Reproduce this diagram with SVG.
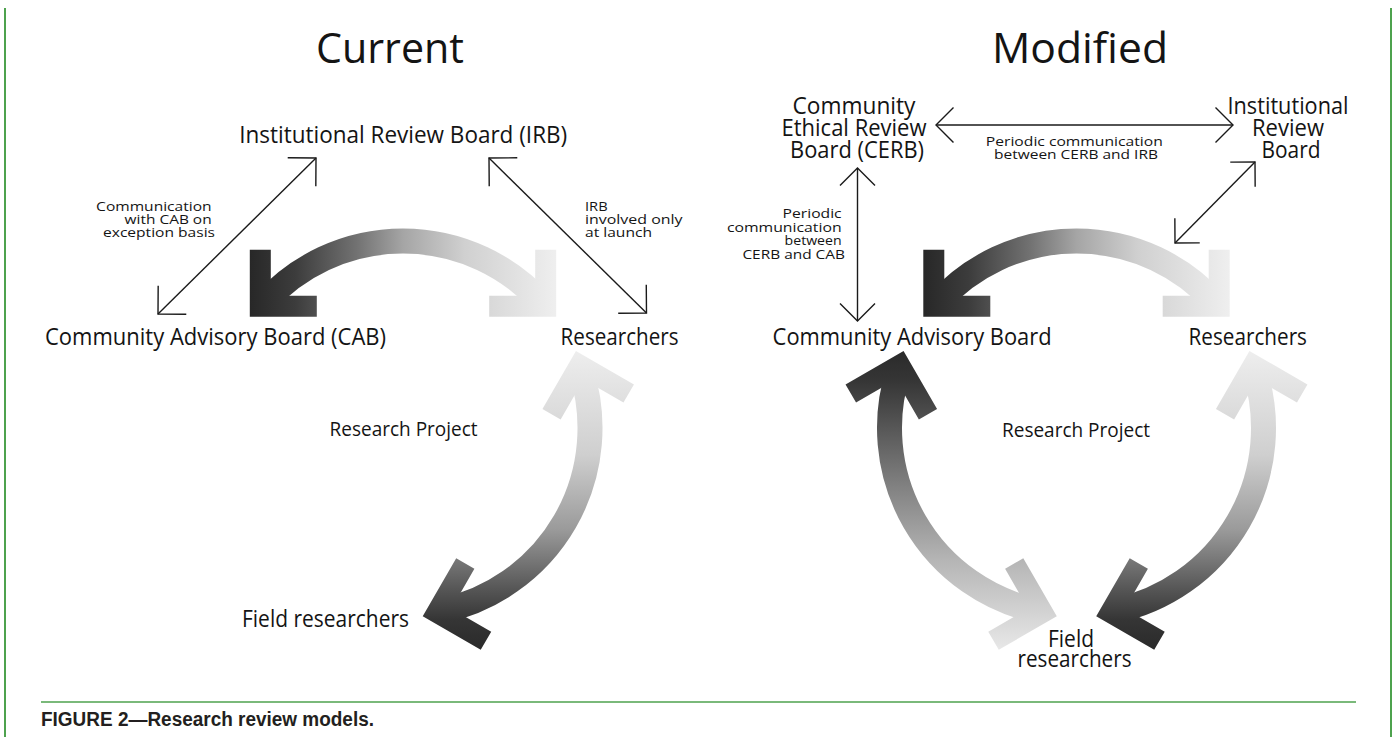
<svg xmlns="http://www.w3.org/2000/svg" width="1396" height="737" viewBox="0 0 1396 737">
  <style>
    text { font-family: "Open Sans", "Liberation Sans", sans-serif; fill: #141414; }
    .ttl { font-size: 42px; }
    .lbl { font-size: 23px; }
    .big { font-size: 24px; }
    .proj { font-size: 20px; }
    .note { font-size: 13px; }
    .cap { font-family: "Liberation Sans", Arial, sans-serif; font-weight: bold; font-size: 20px; fill: #231f20; }
    .frame { stroke: #4ea24e; fill: none; }
    .thinL { stroke: #1a1a1a; stroke-width: 1.4; fill: none; marker-start: url(#chevL); marker-end: url(#chevL); }
    .thinS { stroke: #1a1a1a; stroke-width: 1.4; fill: none; marker-start: url(#chevS); marker-end: url(#chevS); }
    .shaft { fill: none; stroke-width: 25; stroke-linecap: butt; }
  </style>
  <defs>
    <marker id="chevL" markerUnits="userSpaceOnUse" orient="auto-start-reverse" viewBox="-22 -22 24 44" markerWidth="24" markerHeight="44" refX="0" refY="0" overflow="visible">
      <path d="M-20,-20 L0,0 L-20,20" fill="none" stroke="#1a1a1a" stroke-width="1.4"/>
    </marker>
    <marker id="chevS" markerUnits="userSpaceOnUse" orient="auto-start-reverse" viewBox="-22 -22 24 44" markerWidth="24" markerHeight="44" refX="0" refY="0" overflow="visible">
      <path d="M-17.5,-17.5 L0,0 L-17.5,17.5" fill="none" stroke="#1a1a1a" stroke-width="1.4"/>
    </marker>
    <!-- horizontal dark-to-light ramps for the upper arcs -->
    <linearGradient id="gTopL" gradientUnits="userSpaceOnUse" x1="249" y1="0" x2="557" y2="0">
      <stop offset="0" stop-color="#272727"/>
      <stop offset="0.15" stop-color="#3c3c3c"/>
      <stop offset="0.35" stop-color="#727272"/>
      <stop offset="0.5" stop-color="#a5a5a5"/>
      <stop offset="0.7" stop-color="#d0d0d0"/>
      <stop offset="1" stop-color="#efefef"/>
    </linearGradient>
    <linearGradient id="gTopR" href="#gTopL" x1="922.5" x2="1230.5"/>
    <!-- vertical ramps: light at top, dark at bottom and the reverse -->
    <linearGradient id="gDown" gradientUnits="userSpaceOnUse" x1="0" y1="350" x2="0" y2="650">
      <stop offset="0" stop-color="#eeeeee"/>
      <stop offset="0.35" stop-color="#cfcfcf"/>
      <stop offset="0.6" stop-color="#9a9a9a"/>
      <stop offset="0.8" stop-color="#555555"/>
      <stop offset="0.9" stop-color="#353535"/>
      <stop offset="1" stop-color="#2a2a2a"/>
    </linearGradient>
    <linearGradient id="gUp" gradientUnits="userSpaceOnUse" x1="0" y1="350" x2="0" y2="650">
      <stop offset="0" stop-color="#2a2a2a"/>
      <stop offset="0.1" stop-color="#353535"/>
      <stop offset="0.2" stop-color="#4a4a4a"/>
      <stop offset="0.45" stop-color="#808080"/>
      <stop offset="0.7" stop-color="#b5b5b5"/>
      <stop offset="1" stop-color="#e8e8e8"/>
    </linearGradient>
  </defs>

  <!-- page frame -->
  <g id="frame">
    <line class="frame" x1="5" y1="8" x2="5" y2="737" stroke-width="2"/>
    <line class="frame" x1="1391" y1="8" x2="1391" y2="737" stroke-width="2"/>
    <line class="frame" x1="41" y1="702" x2="1356" y2="702" stroke-width="1.5"/>
  </g>

  <g id="connectors">
    <!-- Current: upper arc CAB <-> Researchers -->
    <g id="arc-top-current">
      <path class="shaft" stroke="url(#gTopL)" d="M264.04,302.87 A187,187 0 0 1 541.96,302.87"/>
      <polygon fill="url(#gTopL)" points="249.8,316.8 249.8,249.8 270.8,249.8 270.8,295.8 316.8,295.8 316.8,316.8"/>
      <polygon fill="url(#gTopL)" points="556.2,316.8 556.2,249.8 535.2,249.8 535.2,295.8 489.2,295.8 489.2,316.8"/>
    </g>
    <!-- Current: Researchers <-> Field researchers -->
    <g id="arc-right-current">
      <path class="shaft" stroke="url(#gDown)" d="M580.85,370.21 A187,187 0 0 1 441.88,610.91"/>
      <polygon fill="url(#gDown)" points="575.94,350.91 633.96,384.41 623.46,402.60 583.63,379.60 560.63,419.43 542.44,408.93"/>
      <polygon fill="url(#gDown)" points="422.71,616.32 456.21,558.30 474.40,568.80 451.40,608.63 491.23,631.63 480.73,649.82"/>
    </g>
    <!-- Current: thin links to the IRB -->
    <line class="thinL" x1="158" y1="314" x2="316" y2="158"/>
    <line class="thinL" x1="489" y1="158" x2="646.5" y2="313"/>

    <!-- Modified: upper arc CAB <-> Researchers -->
    <g id="arc-top-modified">
      <path class="shaft" stroke="url(#gTopR)" d="M937.54,302.87 A187,187 0 0 1 1215.46,302.87"/>
      <polygon fill="url(#gTopR)" points="923.3,316.8 923.3,249.8 944.3,249.8 944.3,295.8 990.3,295.8 990.3,316.8"/>
      <polygon fill="url(#gTopR)" points="1229.7,316.8 1229.7,249.8 1208.7,249.8 1208.7,295.8 1162.7,295.8 1162.7,316.8"/>
    </g>
    <!-- Modified: Researchers <-> Field researchers -->
    <g id="arc-right-modified">
      <path class="shaft" stroke="url(#gDown)" d="M1254.35,370.21 A187,187 0 0 1 1115.38,610.91"/>
      <polygon fill="url(#gDown)" points="1249.44,350.91 1307.46,384.41 1296.96,402.60 1257.13,379.60 1234.13,419.43 1215.94,408.93"/>
      <polygon fill="url(#gDown)" points="1096.21,616.32 1129.71,558.30 1147.90,568.80 1124.90,608.63 1164.73,631.63 1154.23,649.82"/>
    </g>
    <!-- Modified: CAB <-> Field researchers -->
    <g id="arc-left-modified">
      <path class="shaft" stroke="url(#gUp)" d="M898.65,370.21 A187,187 0 0 0 1037.62,610.91"/>
      <polygon fill="url(#gUp)" points="903.56,350.91 845.54,384.41 856.04,402.60 895.87,379.60 918.87,419.43 937.06,408.93"/>
      <polygon fill="url(#gUp)" points="1056.79,616.32 1023.29,558.30 1005.10,568.80 1028.10,608.63 988.27,631.63 998.77,649.82"/>
    </g>
    <!-- Modified: thin links -->
    <line class="thinS" x1="936" y1="125" x2="1233" y2="125"/>
    <line class="thinS" x1="857.5" y1="168" x2="857.5" y2="321"/>
    <line class="thinS" x1="1255" y1="162" x2="1175" y2="243"/>
  </g>

  <!-- Current model -->
  <g id="title-current">
    <text class="ttl" x="390" y="63" text-anchor="middle" textLength="148" lengthAdjust="spacingAndGlyphs">Current</text>
  </g>
  <g id="node-irb-current">
    <text class="big" x="403.2" y="143" text-anchor="middle" textLength="328" lengthAdjust="spacingAndGlyphs">Institutional Review Board (IRB)</text>
  </g>
  <g id="node-cab-current">
    <text class="big" x="45" y="345" textLength="341" lengthAdjust="spacingAndGlyphs">Community Advisory Board (CAB)</text>
  </g>
  <g id="node-researchers-current">
    <text class="big" x="560.6" y="345" textLength="118" lengthAdjust="spacingAndGlyphs">Researchers</text>
  </g>
  <g id="node-field-current">
    <text class="big" x="242" y="627" textLength="167" lengthAdjust="spacingAndGlyphs">Field researchers</text>
  </g>
  <g id="label-project-current">
    <text class="proj" x="329.6" y="436" textLength="148" lengthAdjust="spacingAndGlyphs">Research Project</text>
  </g>
  <g id="note-cab-irb">
    <text class="note" text-anchor="end">
      <tspan x="215" y="211" textLength="115.5" lengthAdjust="spacingAndGlyphs">Communication</tspan>
      <tspan x="215" y="224" textLength="87" lengthAdjust="spacingAndGlyphs">with CAB on</tspan>
      <tspan x="215" y="237" textLength="112" lengthAdjust="spacingAndGlyphs">exception basis</tspan>
    </text>
  </g>
  <g id="note-irb-researchers">
    <text class="note">
      <tspan x="585" y="211" textLength="22.6" lengthAdjust="spacingAndGlyphs">IRB</tspan>
      <tspan x="585" y="224" textLength="97.5" lengthAdjust="spacingAndGlyphs">involved only</tspan>
      <tspan x="585" y="237" textLength="67" lengthAdjust="spacingAndGlyphs">at launch</tspan>
    </text>
  </g>

  <!-- Modified model -->
  <g id="title-modified">
    <text class="ttl" x="1080" y="63" text-anchor="middle" textLength="176" lengthAdjust="spacingAndGlyphs">Modified</text>
  </g>
  <g id="node-cerb">
    <text class="lbl" text-anchor="middle">
      <tspan x="857" y="114" textLength="123" lengthAdjust="spacingAndGlyphs">Community</tspan>
      <tspan x="857" y="136" textLength="145" lengthAdjust="spacingAndGlyphs">Ethical Review</tspan>
      <tspan x="857" y="158" textLength="134" lengthAdjust="spacingAndGlyphs">Board (CERB)</tspan>
    </text>
  </g>
  <g id="node-irb-modified">
    <text class="lbl" text-anchor="middle">
      <tspan x="1291" y="114" textLength="121" lengthAdjust="spacingAndGlyphs">Institutional</tspan>
      <tspan x="1291" y="136" textLength="72" lengthAdjust="spacingAndGlyphs">Review</tspan>
      <tspan x="1291" y="158" textLength="59" lengthAdjust="spacingAndGlyphs">Board</tspan>
    </text>
  </g>
  <g id="node-cab-modified">
    <text class="big" x="772.6" y="345" textLength="279" lengthAdjust="spacingAndGlyphs">Community Advisory Board</text>
  </g>
  <g id="node-researchers-modified">
    <text class="big" x="1188.6" y="345" textLength="118.4" lengthAdjust="spacingAndGlyphs">Researchers</text>
  </g>
  <g id="node-field-modified">
    <text class="lbl" text-anchor="middle">
      <tspan x="1074" y="647" textLength="46" lengthAdjust="spacingAndGlyphs">Field</tspan>
      <tspan x="1074.5" y="667" textLength="114" lengthAdjust="spacingAndGlyphs">researchers</tspan>
    </text>
  </g>
  <g id="label-project-modified">
    <text class="proj" x="1002" y="436.5" textLength="148" lengthAdjust="spacingAndGlyphs">Research Project</text>
  </g>
  <g id="note-cerb-cab">
    <text class="note" text-anchor="end">
      <tspan x="845" y="217.5" textLength="59" lengthAdjust="spacingAndGlyphs">Periodic</tspan>
      <tspan x="845" y="231.5" textLength="114.7" lengthAdjust="spacingAndGlyphs">communication</tspan>
      <tspan x="845" y="245" textLength="57" lengthAdjust="spacingAndGlyphs">between</tspan>
      <tspan x="845" y="258.5" textLength="102.6" lengthAdjust="spacingAndGlyphs">CERB and CAB</tspan>
    </text>
  </g>
  <g id="note-cerb-irb">
    <text class="note" text-anchor="middle">
      <tspan x="1076" y="146" textLength="177" lengthAdjust="spacingAndGlyphs">Periodic communication</tspan>
      <tspan x="1076" y="159" textLength="164" lengthAdjust="spacingAndGlyphs">between CERB and IRB</tspan>
    </text>
  </g>

  <g id="caption">
    <text class="cap" x="41" y="726" textLength="333" lengthAdjust="spacingAndGlyphs">FIGURE 2—Research review models.</text>
  </g>
</svg>
